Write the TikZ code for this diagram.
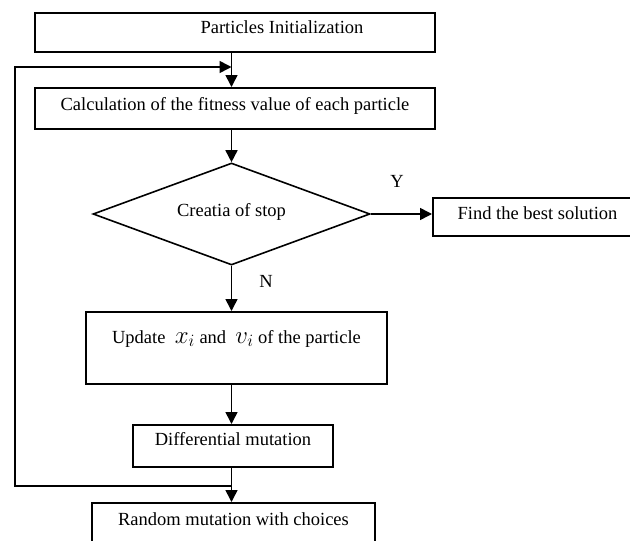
\documentclass[tikz,border=0pt]{standalone}
\usepackage{fontspec}
\setmainfont{Liberation Serif}
\usetikzlibrary{shapes.geometric, arrows.meta}
\tikzstyle{procbox} = [rectangle, draw=black, line width=2pt, inner sep=0pt]
\tikzstyle{decision} = [diamond, draw=black, line width=1.6pt, inner sep=0pt, aspect=2.7, minimum width=277pt, minimum height=102pt]
\tikzstyle{flowlabel} = [inner sep=0pt]
\tikzstyle{connector} = [line width=1.6pt, -{Triangle[length=12pt, width=12pt]}]
\newcommand{\bigvar}[1]{{\fontsize{24}{24}\selectfont$#1$}}

\begin{document}
\begin{tikzpicture}[x=1pt, y=-1pt, font=\fontsize{18.5}{22}\selectfont]

  \useasboundingbox (0,0) rectangle (630,541);
  \clip (0,0) rectangle (630,541);

  % Main column
  \node (init) at (235,32.5) [procbox, minimum width=400pt, text height=20pt, text depth=19pt] {\hspace*{94pt}Particles Initialization};
  \node (calc) at (235,108.5) [procbox, minimum width=400pt, text height=22pt, text depth=19pt] {Calculation of the fitness value of each particle};
  \node (stop) at (231.5,214) [decision, text height=12pt, text depth=8pt] {Creatia of stop};
  \node (update) at (236.5,348) [procbox, minimum width=301pt, text height=31pt, text depth=41pt] {Update\ \ \bigvar{x_i} and\ \ \bigvar{v_i} of the particle};
  \node (diff) at (233,446) [procbox, minimum width=200pt, text height=20pt, text depth=22pt] {Differential mutation};
  \node (rand) at (233.5,524) [procbox, minimum width=283pt, text height=22pt, text depth=20pt] {Random mutation with choices};

  % Right side: result
  \node (best) at (537.5,217) [procbox, minimum width=209pt, text height=21pt, text depth=17pt] {Find the best solution};

  % Branch labels
  \node (yes) at (397,181) [flowlabel] {Y};
  \node (no) at (266,281) [flowlabel] {N};

  % Loop corners
  \coordinate (join) at (231.5,486);
  \coordinate (loopbot) at (15,486);
  \coordinate (looptop) at (15,67);

  % Arrows down the column
  \draw[connector] (init.south -| stop.north) -- (calc.north -| stop.north);
  \draw[connector] (calc.south -| stop.north) -- (stop.north);
  \draw[connector] (stop.south) -- (stop.south |- update.north);
  \draw[connector] (update.south -| stop.south) -- (diff.north -| stop.south);
  \draw[connector] (diff.south -| stop.south) -- (rand.north -| stop.south);

  % Arrow to the result
  \draw[connector] (stop.east) -- (stop.east -| best.west);

  % Loop back
  \draw[connector] (join) -- (loopbot) -- (looptop) -- (looptop -| stop.north);

\end{tikzpicture}
\end{document}
